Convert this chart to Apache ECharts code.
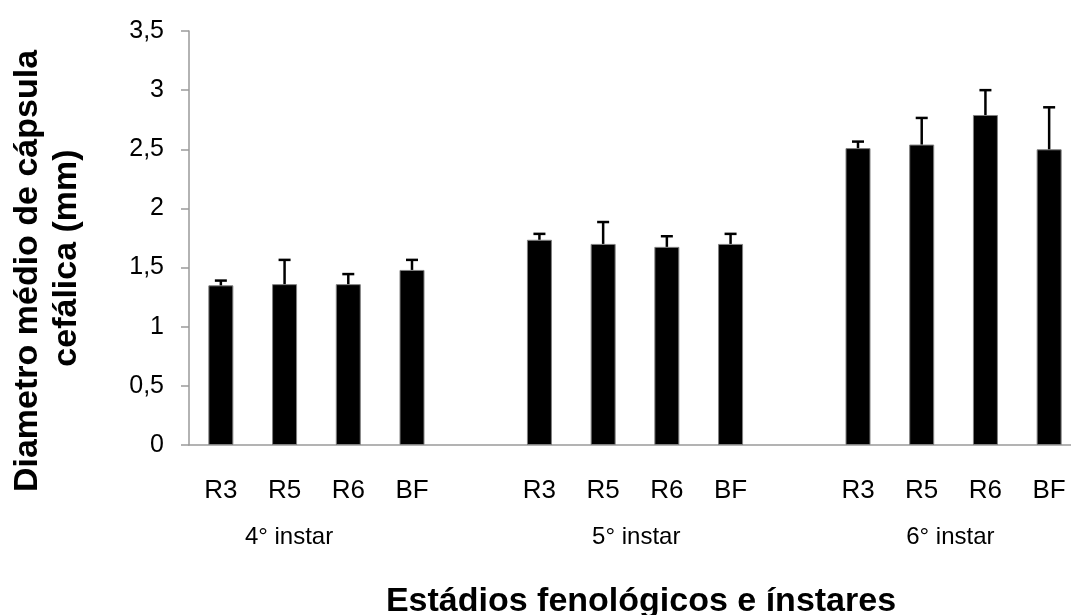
<!DOCTYPE html>
<html><head><meta charset="utf-8">
<script src="https://cdn.jsdelivr.net/npm/echarts@6/dist/echarts.min.js"></script>
<style>html,body{margin:0;padding:0;background:#fff}#c{width:1071px;height:615px}</style>
</head><body><div id="c"></div>
<script>
const categories = ['R3','R5','R6','BF','','R3','R5','R6','BF','','R3','R5','R6','BF'];
const means = [1.35,1.36,1.36,1.48,null,1.735,1.70,1.675,1.70,null,2.51,2.54,2.79,2.50];
const upper = [1.39,1.565,1.445,1.565,null,1.785,1.885,1.765,1.785,null,2.565,2.765,3.00,2.855];
const groupLabels = ['4° instar','5° instar','6° instar'];
const groupAnchor = [1.07, 6.52, 11.45];
const yTitle = ['Diametro médio de cápsula','cefálica (mm)'];
const xTitle = 'Estádios fenológicos e ínstares';

const chart = echarts.init(document.getElementById('c'));
const font = 'Liberation Sans, Arial, sans-serif';
const axisGrey = '#9a9a9a';
chart.setOption({
  animation:false,
  grid:{left:189, top:31, height:414, width:892, outerBoundsMode:'none', containLabel:false},
  xAxis:{type:'category', data:categories,
    axisLine:{lineStyle:{color:axisGrey,width:1.5}},
    axisTick:{length:8, lineStyle:{color:axisGrey,width:1.5}, interval:0},
    axisLabel:{interval:0, margin:33, fontSize:26, color:'#000', fontFamily:font},
    name:xTitle, nameLocation:'middle', nameGap:140,
    nameTextStyle:{fontSize:34, fontWeight:'bold', color:'#000', fontFamily:font, padding:[0,0,0,12]}
  },
  yAxis:{type:'value', min:0, max:3.5, interval:0.5,
    axisLine:{show:true, lineStyle:{color:axisGrey,width:1.5}},
    axisTick:{show:true, length:8, lineStyle:{color:axisGrey,width:1.5}},
    splitLine:{show:false},
    axisLabel:{fontSize:25, color:'#000', fontFamily:font, margin:25,
      formatter:v=>String(v).replace('.',',')}
  },
  series:[
    {type:'bar', data:means, barWidth:25,
     itemStyle:{color:'#000', borderColor:'#808080', borderWidth:1}},
    {type:'custom', data:categories.map((c,i)=>[i,means[i],upper[i]]),
     renderItem:function(params, api){
       const m = api.value(1), u = api.value(2);
       if (m==null || isNaN(m)) return;
       const p0 = api.coord([api.value(0), m]);
       const p1 = api.coord([api.value(0), u]);
       const w = 6;
       return {type:'group', children:[
         {type:'line', shape:{x1:p0[0],y1:p0[1],x2:p1[0],y2:p1[1]}, style:{stroke:'#000',lineWidth:2.5}},
         {type:'line', shape:{x1:p1[0]-w,y1:p1[1],x2:p1[0]+w,y2:p1[1]}, style:{stroke:'#000',lineWidth:2.5}}
       ]};
     }, z:3}
  ]
});
const x0 = chart.convertToPixel({xAxisIndex:0}, 0);
const x1 = chart.convertToPixel({xAxisIndex:0}, 1);
const step = x1 - x0;
const graphics = groupLabels.map((t,i)=>({
  type:'text', x: x0 + groupAnchor[i]*step, y:537,
  style:{text:t, fontSize:24, fontFamily:font, fill:'#000', align:'center', verticalAlign:'middle'}
}));
graphics.push({type:'text', x:28, y:271, rotation:Math.PI/2,
  style:{text:yTitle[0], fontSize:34, fontWeight:'bold', fontFamily:font, fill:'#000',
    align:'center', verticalAlign:'middle'}});
graphics.push({type:'text', x:67, y:258, rotation:Math.PI/2,
  style:{text:yTitle[1], fontSize:34, fontWeight:'bold', fontFamily:font, fill:'#000',
    align:'center', verticalAlign:'middle'}});
chart.setOption({graphic:graphics});
</script></body></html>
